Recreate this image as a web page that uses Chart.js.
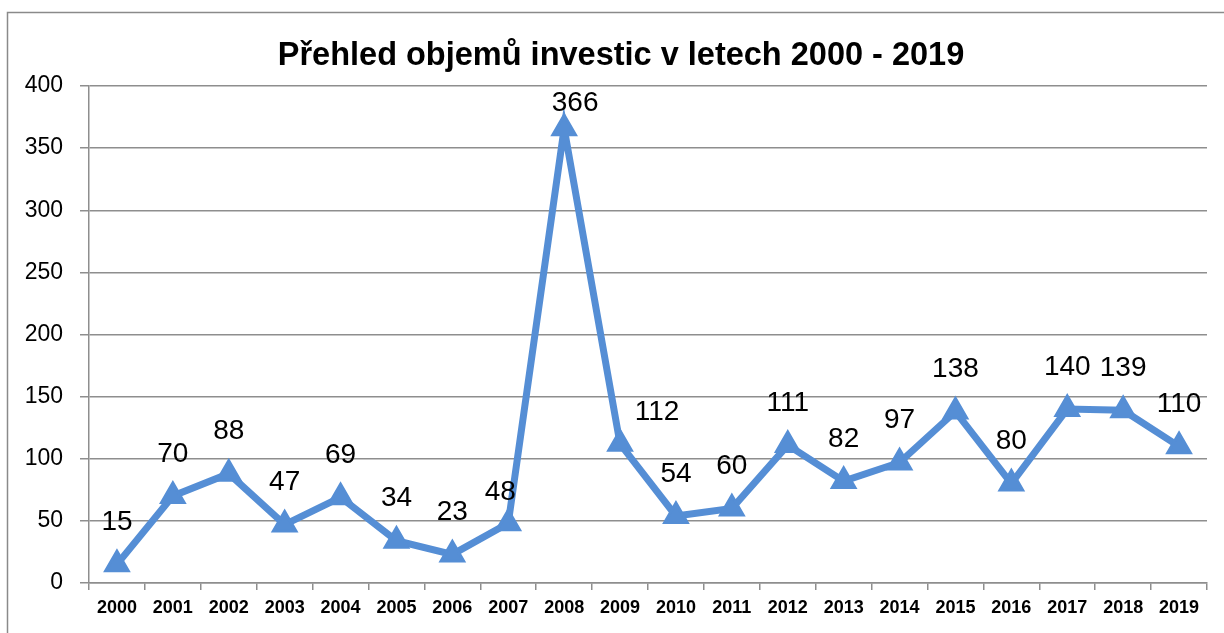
<!DOCTYPE html>
<html>
<head>
<meta charset="utf-8">
<script src="https://cdn.jsdelivr.net/npm/chart.js@4/dist/chart.umd.min.js"></script>
<style>
  html, body { margin: 0; padding: 0; background: #ffffff; }
  #wrap { width: 1224px; height: 633px; position: relative; }
</style>
</head>
<body>
<div id="wrap"><canvas id="c" width="1224" height="633"></canvas></div>
<script>
const titleText = 'Přehled objemů investic v letech 2000 - 2019';
const years = ['2000','2001','2002','2003','2004','2005','2006','2007','2008','2009',
               '2010','2011','2012','2013','2014','2015','2016','2017','2018','2019'];
const investments = [15, 70, 88, 47, 69, 34, 23, 48, 366, 112, 54, 60, 111, 82, 97, 138, 80, 140, 139, 110];
const yTicks = { min: 0, max: 400, step: 50 };

// label placement tweaks (style only): default is centred above the point
const labelOffsetDefault = { dx: 0, dy: -42 };
const labelOffsetOverrides = { 7: { dx: -8, dy: -31 }, 8: { dx: 11, dy: -25 }, 9: { dx: 37, dy: -32 } };

const lineColor = '#558ed5';
const gridColor = '#8e8e8e';

const decorPlugin = {
  id: 'decor',
  beforeDraw(chart) {
    const ctx = chart.ctx;
    ctx.save();
    ctx.fillStyle = '#ffffff';
    ctx.fillRect(0, 0, chart.width, chart.height);
    ctx.strokeStyle = '#8a8a8a';
    ctx.lineWidth = 1.5;
    ctx.strokeRect(7.5, 12.5, chart.width + 20, chart.height + 20);
    ctx.fillStyle = '#000000';
    ctx.font = 'bold 32.5px "Liberation Sans", Arial, sans-serif';
    ctx.textAlign = 'center';
    ctx.textBaseline = 'middle';
    ctx.fillText(titleText, 621, 56);
    ctx.restore();
  },
  afterDatasetsDraw(chart) {
    const ctx = chart.ctx;
    const meta = chart.getDatasetMeta(0);
    const data = chart.data.datasets[0].data;
    ctx.save();
    ctx.fillStyle = '#000000';
    ctx.font = '28px "Liberation Sans", Arial, sans-serif';
    ctx.textAlign = 'center';
    ctx.textBaseline = 'middle';
    meta.data.forEach((pt, i) => {
      const off = labelOffsetOverrides[i] || labelOffsetDefault;
      ctx.fillText(String(data[i]), pt.x + off.dx, pt.y + off.dy);
    });
    ctx.restore();
  }
};

new Chart(document.getElementById('c'), {
  type: 'line',
  data: {
    labels: years,
    datasets: [{
      data: investments,
      borderColor: lineColor,
      backgroundColor: lineColor,
      borderWidth: 7,
      tension: 0,
      pointStyle: 'triangle',
      pointRadius: 13,
      pointBorderWidth: 3,
      pointBackgroundColor: lineColor,
      pointBorderColor: lineColor,
      fill: false
    }]
  },
  options: {
    responsive: false,
    animation: false,
    devicePixelRatio: 1,
    layout: { padding: { top: 86, right: 17, left: 0, bottom: 0 } },
    plugins: {
      legend: { display: false },
      title: { display: false },
      tooltip: { enabled: false }
    },
    scales: {
      x: {
        type: 'category',
        offset: true,
        afterFit(s) { s.height = 50; },
        grid: {
          offset: true,
          drawOnChartArea: false,
          drawTicks: true,
          tickLength: 7,
          color: gridColor,
          lineWidth: 1.5
        },
        border: { display: true, color: gridColor, width: 1.5 },
        ticks: {
          autoSkip: false,
          maxRotation: 0,
          minRotation: 0,
          color: '#000000',
          padding: 7,
          font: { family: '"Liberation Sans", Arial, sans-serif', size: 18, weight: 'bold' }
        }
      },
      y: {
        min: yTicks.min,
        max: yTicks.max,
        afterFit(s) { s.width = 89; },
        grid: {
          color: gridColor,
          lineWidth: 1.5,
          drawTicks: true,
          tickLength: 9
        },
        border: { display: true, color: gridColor, width: 1.5 },
        ticks: {
          stepSize: yTicks.step,
          color: '#000000',
          padding: 17,
          font: { family: '"Liberation Sans", Arial, sans-serif', size: 23 }
        }
      }
    }
  },
  plugins: [decorPlugin]
});
</script>
</body>
</html>
